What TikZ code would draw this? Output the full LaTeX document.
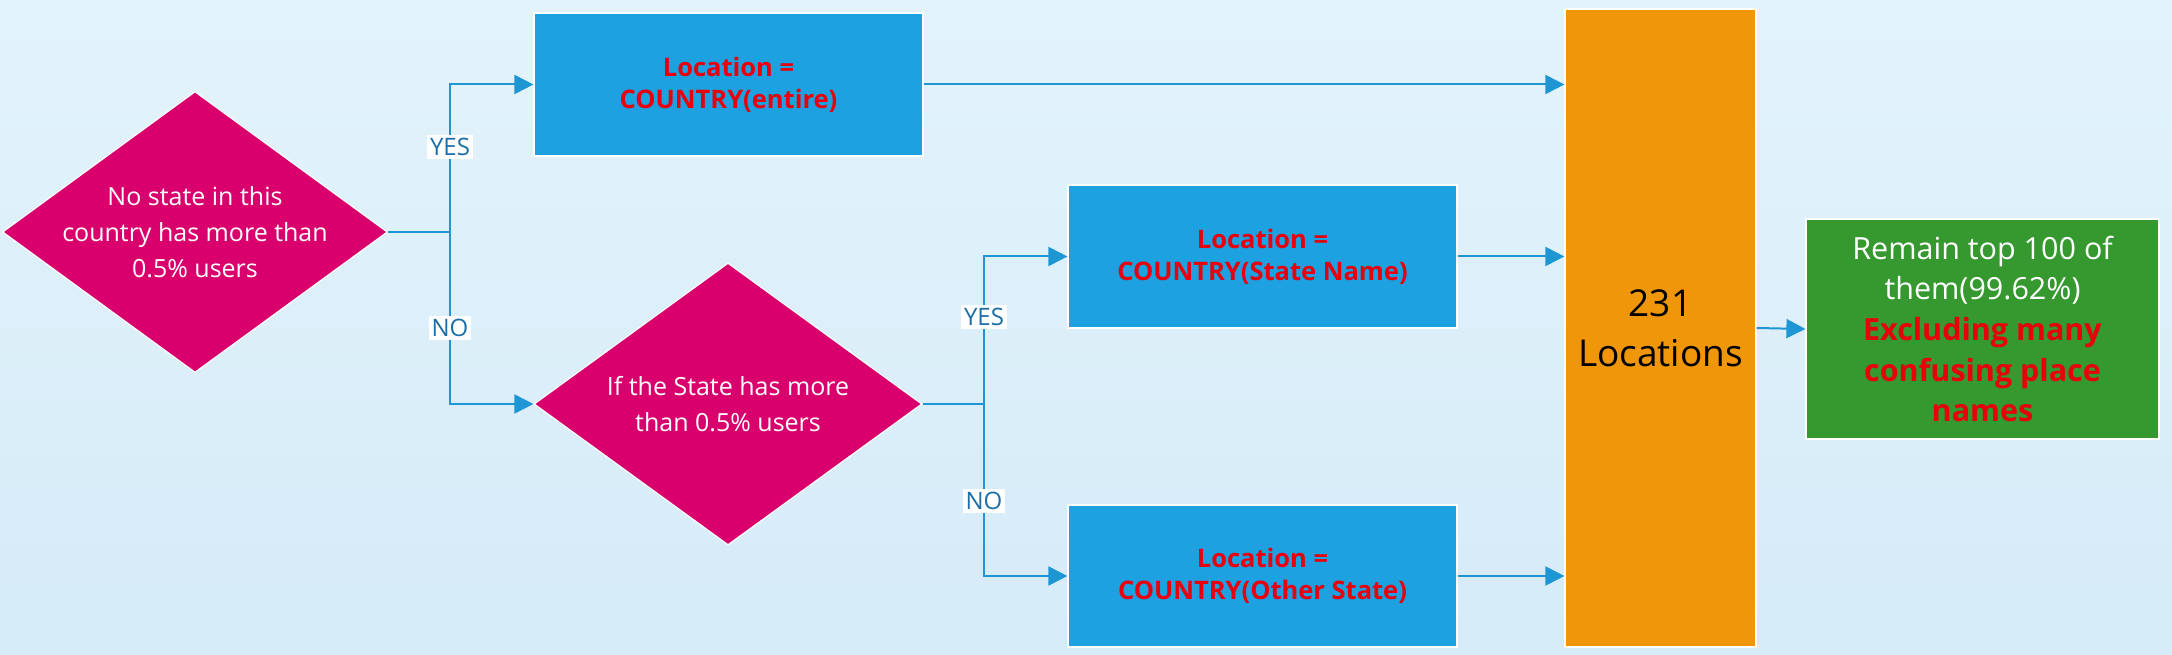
\documentclass[tikz,border=0pt]{standalone}
\usepackage{fontspec}
\setmainfont{Open Sans}
\usetikzlibrary{shapes.geometric,arrows.meta}
\definecolor{bgtop}{HTML}{E3F3FB}
\definecolor{bgbot}{HTML}{D5EBF8}
\definecolor{decide}{HTML}{D9006E}
\definecolor{locblue}{HTML}{1DA1E0}
\definecolor{sumorange}{HTML}{F0960A}
\definecolor{keepgreen}{HTML}{35992F}
\definecolor{flowblue}{HTML}{1E96D4}
\definecolor{ansblue}{HTML}{1B6EA6}
\definecolor{alertred}{HTML}{E8000B}
\begin{document}
\begin{tikzpicture}[x=1pt, y=-1pt,
    decision/.style={diamond, draw=white, line width=1.2pt, fill=decide, text=white, align=center, inner sep=-40pt, font=\fontsize{25}{36}\selectfont},
    locbox/.style={rectangle, draw=white, line width=1.2pt, fill=locblue, text=alertred, align=center, minimum width=389pt, minimum height=143pt, font=\bfseries\fontsize{25.5}{32}\selectfont},
    answer/.style={fill=white, text=ansblue, inner sep=3pt, font=\fontsize{24}{26}\selectfont},
    flow/.style={draw=flowblue, line width=2pt, -{Triangle[length=19pt,width=19pt]}}]
        \useasboundingbox (0,0) rectangle (2172,655);
        \fill[top color=bgtop, bottom color=bgbot] (0,0) rectangle (2172,655);
        \node[decision, minimum width=385pt, minimum height=281pt] (ask1) at (195,232) {No state in this\\country has more than\\0.5\% users};
        \node[decision, minimum width=388pt, minimum height=282pt] (ask2) at (728,404) {If the State has more\\than 0.5\% users};
        \node[locbox] (whole) at (728.5,84.5) {Location =\\COUNTRY(entire)};
        \node[locbox] (named) at (1262.5,256.5) {Location =\\COUNTRY(State Name)};
        \node[locbox, minimum height=142pt] (other) at (1262.5,576) {Location =\\COUNTRY(Other State)};
        \node[rectangle, draw=white, line width=1.2pt, fill=sumorange, align=center, minimum width=191pt, minimum height=638pt, font=\fontsize{37}{50}\selectfont] (total) at (1660.5,328) {231\\Locations};
        \node[rectangle, draw=white, line width=1.2pt, fill=keepgreen, text=white, align=center, minimum width=353pt, minimum height=220pt, font=\fontsize{30.5}{40.6}\selectfont] (keep) at (1982.5,329) {Remain top 100 of\\them(99.62\%)\\{\bfseries\color{alertred}Excluding many}\\{\bfseries\color{alertred}confusing place}\\{\bfseries\color{alertred}names}};
        \coordinate (fork1) at (450,232);
        \coordinate (fork2) at (984,404);
        \draw[flow] (ask1.east) -- (fork1) |- (whole.west);
        \draw[flow] (fork1) |- (ask2.west);
        \draw[flow] (ask2.east) -- (fork2) |- (named.west);
        \draw[flow] (fork2) |- (other.west);
        \draw[flow] (whole.east) -- (whole.east -| total.west);
        \draw[flow] (named.east) -- (named.east -| total.west);
        \draw[flow] (other.east) -- (other.east -| total.west);
        \draw[flow] (total.east) -- (keep.west);
        \node[answer] (yes1) at (450,147) {YES};
        \node[answer] (no1) at (450,328) {NO};
        \node[answer] (yes2) at (984,317) {YES};
        \node[answer] (no2) at (984,501) {NO};
    \end{tikzpicture}
\end{document}
